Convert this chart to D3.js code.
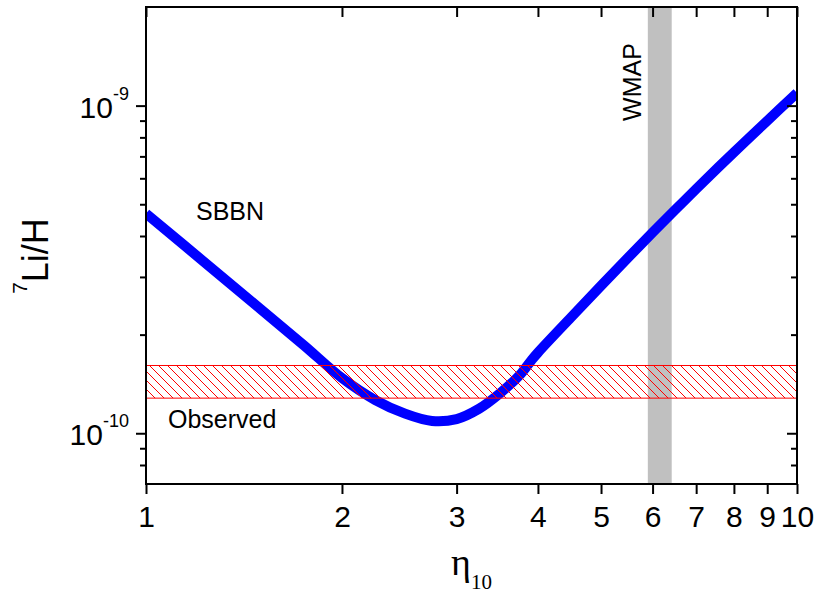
<!DOCTYPE html>
<html>
<head>
<meta charset="utf-8">
<script src="https://cdn.jsdelivr.net/npm/d3@7"></script>
<style>
  html, body { margin: 0; padding: 0; background: #fff; }
  svg { display: block; }
</style>
</head>
<body>
<svg id="chart" width="815" height="595"></svg>
<script>
// SBBN prediction of 7Li/H versus baryon-to-photon ratio eta_10
const eta = [1.0, 1.25, 1.5, 1.75, 2.0, 2.25, 2.5, 2.75, 3.0, 3.25, 3.5, 3.75, 3.9, 4.0,
             4.5, 5.0, 5.5, 6.0, 6.5, 7.0, 8.0, 9.0, 10.0];
const liH = [4.684e-10, 3.238e-10, 2.393e-10, 1.852e-10, 1.474e-10, 1.263e-10, 1.148e-10, 1.090e-10,
             1.105e-10, 1.189e-10, 1.326e-10, 1.505e-10, 1.661e-10, 1.763e-10,
             2.262e-10, 2.820e-10, 3.432e-10, 4.097e-10, 4.808e-10, 5.564e-10, 7.203e-10, 8.990e-10, 1.0925e-9];

// Observed lithium abundance range and WMAP eta_10 range
const observedBand = [1.28e-10, 1.61e-10];
const wmapBand = [5.9, 6.42];

// Axis ticks
const xTicks = [1, 2, 3, 4, 5, 6, 7, 8, 9, 10];
const yMajorTicks = [1e-10, 1e-9];
const yMinorTicks = [8e-11, 9e-11, 2e-10, 3e-10, 4e-10, 5e-10, 6e-10, 7e-10, 8e-10, 9e-10];
const yTickExponents = ["-10", "-9"];

const xDomain = [1, 10];
const yDomain = [7e-11, 2e-9];

const m = { left: 146, right: 797, top: 7, bottom: 484 };
const svg = d3.select("#chart");

const x = d3.scaleLog().domain(xDomain).range([m.left, m.right]);
const y = d3.scaleLog().domain(yDomain).range([m.bottom, m.top]);

svg.append("defs").call(defs => {
  defs.append("clipPath").attr("id", "plotClip")
    .append("rect")
    .attr("x", m.left).attr("y", m.top)
    .attr("width", m.right - m.left).attr("height", m.bottom - m.top);
  const p = defs.append("pattern").attr("id", "hatch")
    .attr("patternUnits", "userSpaceOnUse")
    .attr("width", 9).attr("height", 9);
  p.append("path")
    .attr("d", "M-1,-1 L10,10 M-1,8 L1,10 M8,-1 L10,1")
    .attr("stroke", "#ff0000").attr("stroke-width", 1).attr("fill", "none");
});

const plot = svg.append("g").attr("clip-path", "url(#plotClip)");

// WMAP band
plot.append("rect")
  .attr("x", x(wmapBand[0]))
  .attr("width", x(wmapBand[1]) - x(wmapBand[0]))
  .attr("y", m.top).attr("height", m.bottom - m.top)
  .attr("fill", "#c0c0c0");

// SBBN curve
const line = d3.line()
  .x((d, i) => x(eta[i]))
  .y((d, i) => y(liH[i]))
  .curve(d3.curveCatmullRom.alpha(0.5));
plot.append("path")
  .datum(eta)
  .attr("d", line)
  .attr("fill", "none")
  .attr("stroke", "#0000ff")
  .attr("stroke-width", 10);

// Observed band (hatched)
plot.append("rect")
  .attr("x", m.left)
  .attr("width", m.right - m.left)
  .attr("y", y(observedBand[1]))
  .attr("height", y(observedBand[0]) - y(observedBand[1]))
  .attr("fill", "url(#hatch)")
  .attr("stroke", "#ff0000").attr("stroke-width", 1);

// Axes
const tickStyle = g => {
  g.select(".domain").remove();
  g.selectAll(".tick line").attr("stroke", "#000").attr("stroke-width", 2);
};

svg.append("g").attr("transform", `translate(0,${m.bottom})`)
  .call(d3.axisBottom(x).tickValues(xTicks).tickSize(10).tickSizeOuter(0).tickPadding(12)
    .tickFormat(d3.format("d")))
  .call(tickStyle)
  .call(g => g.selectAll(".tick text")
    .attr("font-family", "Liberation Sans, Arial, sans-serif")
    .attr("font-size", 30).attr("fill", "#000"));

svg.append("g").attr("transform", `translate(0,${m.top})`)
  .call(d3.axisTop(x).tickValues(xTicks).tickSize(-10).tickSizeOuter(0).tickFormat(""))
  .call(tickStyle);

svg.append("g").attr("transform", `translate(${m.left},0)`)
  .call(d3.axisLeft(y).tickValues(yMajorTicks).tickSize(10).tickSizeOuter(0).tickFormat(""))
  .call(tickStyle);
svg.append("g").attr("transform", `translate(${m.left},0)`)
  .call(d3.axisLeft(y).tickValues(yMinorTicks).tickSize(6).tickSizeOuter(0).tickFormat(""))
  .call(tickStyle);
svg.append("g").attr("transform", `translate(${m.right},0)`)
  .call(d3.axisRight(y).tickValues(yMajorTicks).tickSize(-10).tickSizeOuter(0).tickFormat(""))
  .call(tickStyle);
svg.append("g").attr("transform", `translate(${m.right},0)`)
  .call(d3.axisRight(y).tickValues(yMinorTicks).tickSize(-6).tickSizeOuter(0).tickFormat(""))
  .call(tickStyle);

// Power-of-ten labels on the y axis
const yl = svg.append("g")
  .attr("font-family", "Liberation Sans, Arial, sans-serif")
  .attr("fill", "#000");
yMajorTicks.forEach((v, i) => {
  const t = yl.append("text")
    .attr("x", 129).attr("y", y(v) + 12)
    .attr("text-anchor", "end")
    .attr("font-size", 30);
  t.append("tspan").text("10");
  t.append("tspan").attr("dy", -18).attr("font-size", 18).text(yTickExponents[i]);
});

// Frame
svg.append("rect")
  .attr("x", m.left).attr("y", m.top)
  .attr("width", m.right - m.left).attr("height", m.bottom - m.top)
  .attr("fill", "none").attr("stroke", "#000").attr("stroke-width", 2);

// Annotations
const sans = "Liberation Sans, Arial, sans-serif";
svg.append("text").attr("x", 196).attr("y", 220)
  .attr("font-family", sans).attr("font-size", 25).text("SBBN");
svg.append("text").attr("x", 168).attr("y", 428)
  .attr("font-family", sans).attr("font-size", 25).text("Observed");
svg.append("text")
  .attr("transform", `translate(641,82) rotate(-90)`)
  .attr("text-anchor", "middle")
  .attr("font-family", sans).attr("font-size", 25).text("WMAP");

// Axis titles
const yTitle = svg.append("text")
  .attr("transform", `translate(48,256) rotate(-90)`)
  .attr("text-anchor", "middle")
  .attr("font-family", sans).attr("font-size", 36);
yTitle.append("tspan").attr("font-size", 21).attr("dy", -21).text("7");
yTitle.append("tspan").attr("dy", 21).text("Li/H");

const xTitle = svg.append("text")
  .attr("x", (m.left + m.right) / 2).attr("y", 575)
  .attr("text-anchor", "middle")
  .attr("font-family", "Liberation Serif, DejaVu Serif, Times New Roman, serif")
  .attr("font-size", 38);
xTitle.append("tspan").text("η");
xTitle.append("tspan").attr("dy", 14).attr("font-size", 21).text("10");
</script>
</body>
</html>
